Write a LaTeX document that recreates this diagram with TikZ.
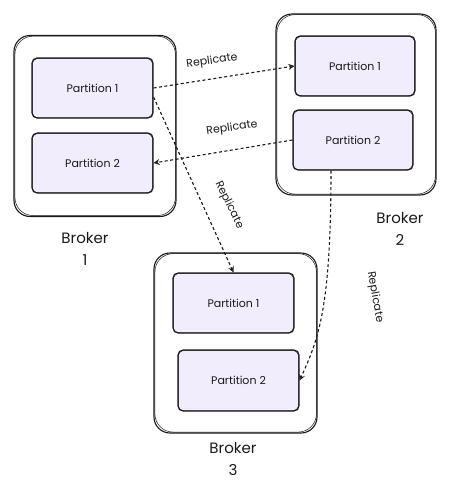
\documentclass[tikz,border=0pt]{standalone}
\usepackage{fontspec}
\setmainfont{Poppins}
\usetikzlibrary{arrows.meta}
\definecolor{partfill}{RGB}{241,237,252}
\definecolor{ink}{RGB}{25,25,25}
\begin{document}
\begin{tikzpicture}[x=1pt,y=-1pt,
  broker/.style={draw=ink, line width=1.1pt, rounded corners=16pt, inner sep=0pt},
  sketch/.style={draw=ink, line width=0.5pt},
  partbox/.style={draw=ink, line width=1.1pt, fill=partfill, rounded corners=5pt,
    minimum width=121pt, minimum height=60pt, inner sep=0pt,
    font=\fontsize{11}{13}\selectfont, text=ink},
  blabel/.style={font=\fontsize{15}{22}\selectfont, align=center, text=ink},
  repl/.style={draw=ink, line width=1.1pt, dash pattern=on 3pt off 2.5pt,
    -{Stealth[open, length=6pt, width=6pt, line width=0.9pt]}},
  rlabel/.style={font=\fontsize{11}{13}\selectfont, text=ink}]
\useasboundingbox (0,0) rectangle (460,490);

% Brokers
\node[broker, minimum width=162pt, minimum height=181pt] (b1) at (95,126) {};
\node[broker, minimum width=160pt, minimum height=181pt] (b2) at (356,104.5) {};
\node[broker, minimum width=163pt, minimum height=180pt] (b3) at (235.5,343) {};
% hand-drawn second strokes
\foreach \b in {b1,b2,b3}{
  \draw[sketch, rounded corners=18pt] ([shift={(1.5pt,-1.2pt)}]\b.north west) rectangle ([shift={(-1.2pt,1.5pt)}]\b.south east);
}

% Partitions
\node[partbox] (p11) at (92.5,88) {Partition 1};
\node[partbox] (p12) at (92.5,163) {Partition 2};
\node[partbox, minimum width=120pt] (p21) at (355,66) {Partition 1};
\node[partbox, minimum width=120pt] (p22) at (353,140) {Partition 2};
\node[partbox] (p31) at (233.5,303) {Partition 1};
\node[partbox, minimum height=61pt] (p32) at (238.5,380.5) {Partition 2};
\foreach \p in {p11,p12,p21,p22,p31,p32}{
  \draw[sketch, rounded corners=6pt] ([shift={(0.8pt,-1pt)}]\p.north west) rectangle ([shift={(-1pt,0.8pt)}]\p.south east);
}

% Broker labels
\node[blabel] (l1) at (85,249) {Broker\\1};
\node[blabel] (l2) at (400,229) {Broker\\2};
\node[blabel] (l3) at (233,459) {Broker\\3};

% Replication arrows
\draw[repl] (p11.east) -- (p21.west);
\draw[repl] (p22.west) -- (p12.east);
\draw[repl] ([yshift=-9pt]p11.east) -- (p31.north);
\draw[repl] ([xshift=-22pt]p22.south) .. controls (331,310) and (318,340) .. (p32.east);

% Replication labels
\node[rlabel, rotate=8] (r1) at (212,61) {Replicate};
\node[rlabel, rotate=8] (r2) at (232,128) {Replicate};
\node[rlabel, rotate=-64] (r3) at (229,205) {Replicate};
\node[rlabel, rotate=-80] (r4) at (375,297) {Replicate};
\end{tikzpicture}
\end{document}
